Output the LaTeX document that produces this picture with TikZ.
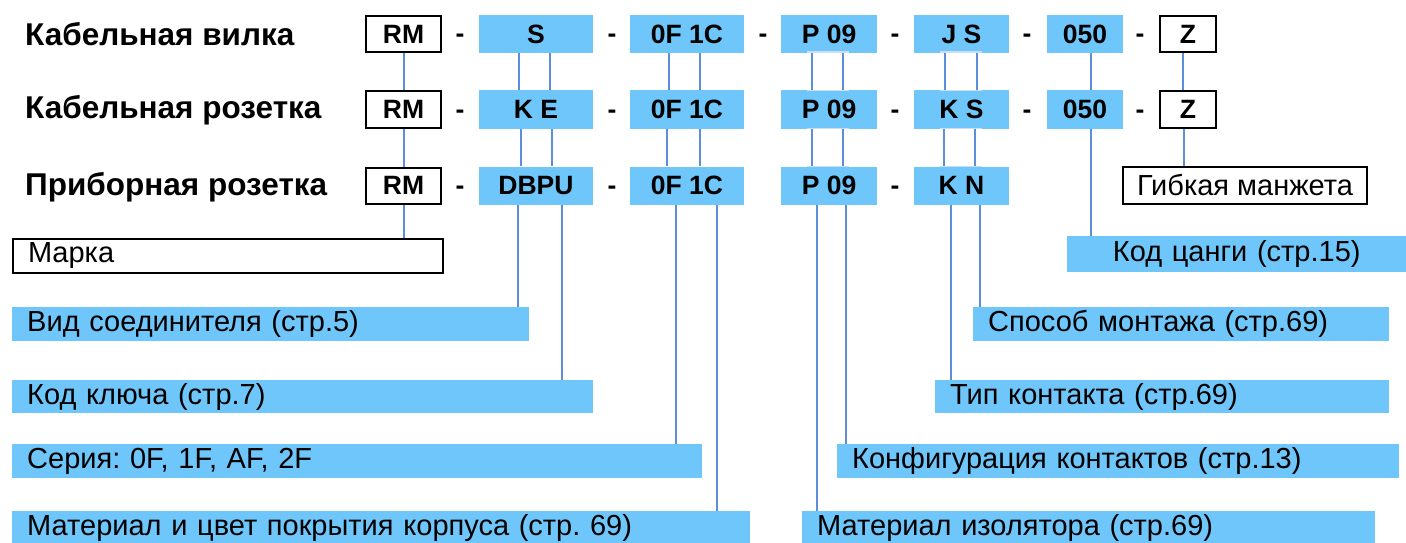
\documentclass[tikz,border=0pt]{standalone}
\usepackage{fontspec}
\setmainfont{Liberation Sans}
\definecolor{lb}{HTML}{6EC6FA}
\definecolor{ln}{HTML}{5B8FD9}
\definecolor{fl}{HTML}{CCDCF2}
\frenchspacing
\begin{document}
\begin{tikzpicture}[x=1pt,y=-1pt,
  title/.style={anchor=west,inner sep=0,font=\bfseries\fontsize{31.5}{33}\selectfont},
  codebox/.style={fill=lb,minimum height=38pt,inner sep=0,font=\bfseries\fontsize{26.5}{28}\selectfont},
  wbox/.style={draw=black,line width=2pt,fill=white,minimum height=36pt,inner sep=0,font=\bfseries\fontsize{26.5}{28}\selectfont},
  dsh/.style={inner sep=0,anchor=base,font=\bfseries\fontsize{26.5}{28}\selectfont},
  lbl/.style={fill=lb,anchor=north west,minimum height=34pt,inner xsep=15pt,inner ysep=0,align=left,font=\fontsize{29}{30}\selectfont},
  wlbl/.style={lbl,fill=white,draw=black,line width=2pt},
  conn/.style={draw=ln,line width=2pt},
  faint/.style={draw=fl,line width=1.5pt}]
\useasboundingbox (0,0) rectangle (1406,543);

% titles
\node[title] (t1) at (25,34) {Кабельная вилка};
\node[title] (t2) at (25,110) {Кабельная розетка};
\node[title] (t3) at (25,187) {Приборная розетка};

% row 1
\node[wbox,minimum width=75pt] (rm1) at (403.5,34) {RM};
\node[codebox,minimum width=114pt] (s1) at (536,34) {S};
\node[codebox,minimum width=114pt] (c1) at (687,34) {0F 1C};
\node[codebox,minimum width=96pt] (p1) at (829,34) {P 09};
\node[codebox,minimum width=95pt] (j1) at (961.5,34) {J S};
\node[codebox,minimum width=76pt] (n1) at (1085,34) {050};
\node[wbox,minimum width=56pt] (z1) at (1188,34) {Z};
\node[dsh] (d11) at (460,43) {-};
\node[dsh] (d12) at (612,43) {-};
\node[dsh] (d13) at (763,43) {-};
\node[dsh] (d14) at (895,43) {-};
\node[dsh] (d15) at (1027,43) {-};
\node[dsh] (d16) at (1140,43) {-};

% row 2
\node[wbox,minimum width=75pt] (rm2) at (403.5,109.5) {RM};
\node[codebox,minimum width=114pt] (s2) at (536,109.5) {K E};
\node[codebox,minimum width=114pt] (c2) at (687,109.5) {0F 1C};
\node[codebox,minimum width=96pt] (p2) at (829,109.5) {P 09};
\node[codebox,minimum width=95pt] (j2) at (961.5,109.5) {K S};
\node[codebox,minimum width=76pt] (n2) at (1085,109.5) {050};
\node[wbox,minimum width=56pt] (z2) at (1188,109.5) {Z};
\node[dsh] (d21) at (460,118.5) {-};
\node[dsh] (d22) at (612,118.5) {-};
\node[dsh] (d24) at (895,118.5) {-};
\node[dsh] (d25) at (1027,118.5) {-};
\node[dsh] (d26) at (1140,118.5) {-};

% row 3
\node[wbox,minimum width=75pt] (rm3) at (403.5,185.5) {RM};
\node[codebox,minimum width=114pt] (s3) at (536,185.5) {DBPU};
\node[codebox,minimum width=114pt] (c3) at (687,185.5) {0F 1C};
\node[codebox,minimum width=96pt] (p3) at (829,185.5) {P 09};
\node[codebox,minimum width=95pt] (j3) at (961.5,185.5) {K N};
\node[dsh] (d31) at (460,194.5) {-};
\node[dsh] (d32) at (612,194.5) {-};
\node[dsh] (d34) at (895,194.5) {-};

% label boxes left
\node[wlbl,minimum width=430pt,text width=400pt] (marka) at (12,238) {Марка};
\node[lbl,minimum width=517pt,text width=487pt] (vid) at (12,307) {Вид соединителя (стр.5)};
\node[lbl,minimum width=581pt,text width=551pt,minimum height=33pt] (key) at (12,380) {Код ключа (стр.7)};
\node[lbl,minimum width=690pt,text width=660pt] (ser) at (12,444) {Серия: 0F, 1F, AF, 2F};
\node[lbl,minimum width=738pt,text width=708pt] (mat) at (12,511) {Материал и цвет покрытия корпуса (стр. 69)};

% label boxes right
\node[draw=black,line width=2pt,fill=white,minimum width=244pt,minimum height=37pt,inner sep=0,font=\fontsize{29}{30}\selectfont] (gib) at (1245,185.5) {Гибкая манжета};
\node[lbl,minimum width=339pt,text width=309pt,align=center,minimum height=36pt] (cang) at (1067,236) {Код цанги (стр.15)};
\node[lbl,minimum width=416pt,text width=386pt] (spos) at (973,307) {Способ монтажа (стр.69)};
\node[lbl,minimum width=454pt,text width=424pt,minimum height=33pt] (tip) at (935,380) {Тип контакта (стр.69)};
\node[lbl,minimum width=562pt,text width=532pt] (konf) at (837,444) {Конфигурация контактов (стр.13)};
\node[lbl,minimum width=573pt,text width=543pt] (iso) at (802,511) {Материал изолятора (стр.69)};

% faint brackets
\foreach \a in {p,j}{
  \draw[faint] ([xshift=-22pt,yshift=1pt]\a1.south) -- ([xshift=20pt,yshift=1pt]\a1.south);
  \draw[faint] ([xshift=-22pt]\a2.north) -- ([xshift=20pt]\a2.north);
  \draw[faint] ([xshift=-22pt]\a2.south) -- ([xshift=20pt]\a2.south);
  \draw[faint] ([xshift=-22pt]\a3.north) -- ([xshift=20pt]\a3.north);
}

% connectors
\draw[conn] (rm1.south) -- (rm2.north);
\draw[conn] (rm2.south) -- (rm3.north);
\draw[conn] (rm3.south) -- (rm3.south |- marka.north);

\draw[conn] ([xshift=-17pt]s1.south) -- ([xshift=-17pt]s2.north);
\draw[conn] ([xshift=14pt]s1.south) -- ([xshift=14pt]s2.north);
\draw[conn] ([xshift=-15pt]s2.south) -- ([xshift=-15pt]s3.north);
\draw[conn] ([xshift=16pt]s2.south) -- ([xshift=16pt]s3.north);
\draw[conn] ([xshift=-18pt]s3.south) coordinate (a1) -- (a1 |- vid.north);
\draw[conn] ([xshift=26pt]s3.south) coordinate (a2) -- (a2 |- key.north);

\draw[conn] ([xshift=-18pt]c1.south) -- ([xshift=-18pt]c2.north);
\draw[conn] ([xshift=13pt]c1.south) -- ([xshift=13pt]c2.north);
\draw[conn] ([xshift=-20pt]c2.south) -- ([xshift=-20pt]c3.north);
\draw[conn] ([xshift=13pt]c2.south) -- ([xshift=13pt]c3.north);
\draw[conn] ([xshift=-11pt]c3.south) coordinate (a3) -- (a3 |- ser.north);
\draw[conn] ([xshift=30pt]c3.south) coordinate (a4) -- (a4 |- mat.north);

\draw[conn] ([xshift=-17pt]p1.south) -- ([xshift=-17pt]p2.north);
\draw[conn] ([xshift=14pt]p1.south) -- ([xshift=14pt]p2.north);
\draw[conn] ([xshift=-17pt]p2.south) -- ([xshift=-17pt]p3.north);
\draw[conn] ([xshift=14pt]p2.south) -- ([xshift=14pt]p3.north);
\draw[conn] ([xshift=-12pt]p3.south) coordinate (a5) -- (a5 |- iso.north);
\draw[conn] ([xshift=17pt]p3.south) coordinate (a6) -- (a6 |- konf.north);

\draw[conn] ([xshift=-16.5pt]j1.south) -- ([xshift=-16.5pt]j2.north);
\draw[conn] ([xshift=15.5pt]j1.south) -- ([xshift=15.5pt]j2.north);
\draw[conn] ([xshift=-17.5pt]j2.south) -- ([xshift=-17.5pt]j3.north);
\draw[conn] ([xshift=13.5pt]j2.south) -- ([xshift=13.5pt]j3.north);
\draw[conn] ([xshift=-10.5pt]j3.south) coordinate (a7) -- (a7 |- tip.north);
\draw[conn] ([xshift=18.5pt]j3.south) coordinate (a8) -- (a8 |- spos.north);

\draw[conn] ([xshift=6pt]n1.south) -- ([xshift=6pt]n2.north);
\draw[conn] ([xshift=6pt]n2.south) coordinate (a9) -- (a9 |- cang.north);

\draw[conn] ([xshift=-5pt]z1.south) -- ([xshift=-5pt]z2.north);
\draw[conn] ([xshift=-4pt]z2.south) coordinate (a10) -- (a10 |- gib.north);
\end{tikzpicture}
\end{document}
